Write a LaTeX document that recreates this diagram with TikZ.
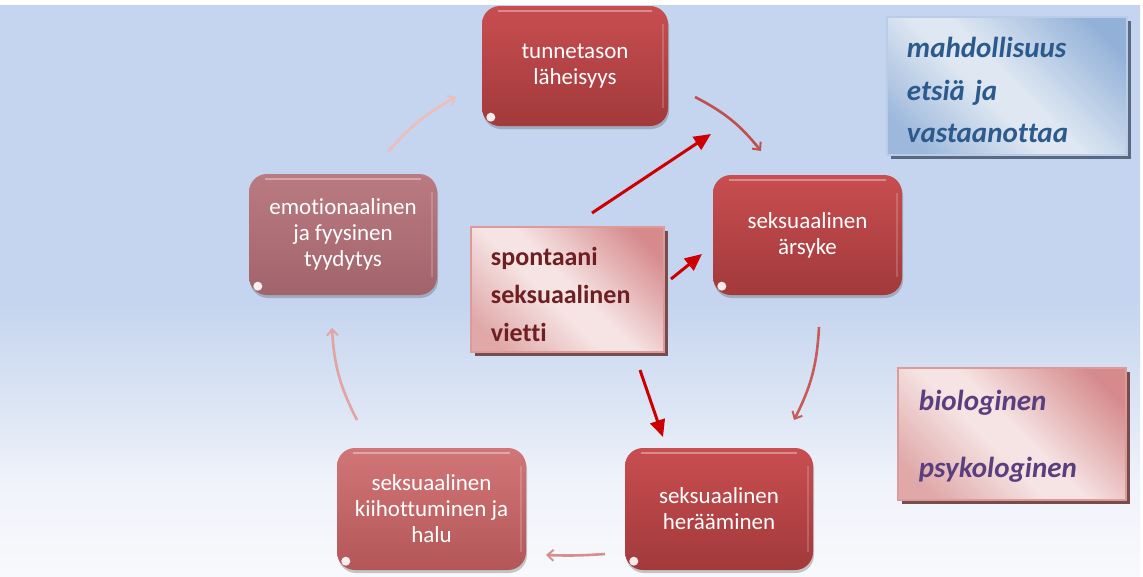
\documentclass[tikz,border=0pt]{standalone}
\usepackage{fontspec}
\setmainfont{Carlito}[Ligatures=NoCommon]
\usetikzlibrary{shadows,arrows.meta,calc}
\definecolor{bgA}{HTML}{C5D5EF}
\definecolor{bgB}{HTML}{DCE5F4}
\definecolor{bgC}{HTML}{F0F3FA}
\definecolor{bgD}{HTML}{F8F9FC}
\definecolor{darkT}{HTML}{C84E50}
\definecolor{darkB}{HTML}{A2393B}
\definecolor{midT}{HTML}{D17678}
\definecolor{midB}{HTML}{B45658}
\definecolor{mauT}{HTML}{BA7A82}
\definecolor{mauB}{HTML}{A2646C}
\definecolor{pinkL}{HTML}{F6E3E3}
\definecolor{pinkD}{HTML}{D68A8C}
\definecolor{pinkE}{HTML}{E0A8A8}
\definecolor{pinkBorder}{HTML}{DC9A9B}
\definecolor{blueL}{HTML}{DEE7F2}
\definecolor{blueD}{HTML}{92B1D8}
\definecolor{blueE}{HTML}{9DB8DB}
\definecolor{blueBorder}{HTML}{B9CDE8}
\definecolor{maroonT}{HTML}{6E1F21}
\definecolor{blueT}{HTML}{2D5A8D}
\definecolor{purpleT}{HTML}{5A3F7E}
\definecolor{redArrow}{HTML}{CC0000}
\definecolor{cA}{HTML}{C0504E}
\definecolor{cB}{HTML}{C65B59}
\definecolor{cC}{HTML}{D48F8E}
\definecolor{cD}{HTML}{E2A3A3}
\definecolor{cE}{HTML}{EDBDB8}
\pgfdeclareverticalshading{bgshade}{100bp}{color(0bp)=(bgD); color(25bp)=(bgD); color(33bp)=(bgC); color(40bp)=(bgB); color(49bp)=(bgA); color(75bp)=(bgA); color(100bp)=(bgA)}
\pgfdeclarehorizontalshading{pinkshade}{100bp}{color(0bp)=(pinkE); color(22bp)=(pinkE); color(44bp)=(pinkL); color(52bp)=(pinkL); color(78bp)=(pinkD); color(100bp)=(pinkD)}
\pgfdeclarehorizontalshading{blueshade}{100bp}{color(0bp)=(blueE); color(22bp)=(blueE); color(44bp)=(blueL); color(52bp)=(blueL); color(78bp)=(blueD); color(100bp)=(blueD)}
\begin{document}
\begin{tikzpicture}[x=1pt,y=-1pt,
  cyc/.style={rounded corners=18pt, minimum width=188pt, minimum height=121pt,
    text=white, align=center, inner sep=0pt,
    font=\fontsize{23}{26}\selectfont,
    drop shadow={shadow xshift=1pt, shadow yshift=-3pt, opacity=0.3, fill=black!70}},
  infobox/.style={minimum width=#1, line width=2.5pt},
  infotext/.style={anchor=west, text width=#1, align=left, inner sep=0pt},
  cycarrow/.style={line width=2.6pt, -{Straight Barb[length=6pt,width=11pt,line width=2pt]}},
  redarrow/.style={line width=3pt, draw=redArrow, -{Triangle[length=17pt,width=15pt]}}
]
\useasboundingbox (0,0) rectangle (1143,576);
\fill[white] (0,0) rectangle (1143,576);
\shade[shading=bgshade] (0,5) rectangle (1140,576);

% cycle nodes
\node[cyc, top color=darkT, bottom color=darkB, minimum width=186pt, minimum height=120pt] (tun) at (575,66) {tunnetason\\läheisyys};
\node[cyc, top color=darkT, bottom color=darkB, minimum width=189pt, minimum height=120pt] (ars) at (807.5,235) {seksuaalinen\\ärsyke};
\node[cyc, top color=darkT, bottom color=darkB, minimum width=188pt, minimum height=122pt] (her) at (719,509) {seksuaalinen\\herääminen};
\node[cyc, top color=midT, bottom color=midB, minimum width=189pt, minimum height=122pt] (kii) at (431.5,509) {seksuaalinen\\kiihottuminen ja\\halu};
\node[cyc, top color=mauT, bottom color=mauB, minimum width=188pt, minimum height=121pt] (tyy) at (343,234.5) {emotionaalinen\\ja fyysinen\\tyydytys};

% glossy highlights
\foreach \n in {tun,ars,her,kii,tyy}{
  \draw[white, opacity=0.35, line width=2pt] ($(\n.north west)+(16,5)$) -- ($(\n.north east)+(-16,5)$);
  \draw[white, opacity=0.18, line width=1.5pt] ($(\n.north east)+(-5,18)$) -- ($(\n.south east)+(-5,-18)$);
  \fill[white, opacity=0.9] ($(\n.south west)+(9,-9)$) circle (4.5pt);
}

% info boxes
\node[infobox=193pt, minimum height=125pt, draw=pinkBorder,
  shading=pinkshade, shading angle=45,
  drop shadow={shadow xshift=4pt, shadow yshift=-4pt, opacity=1, fill=black!45!pinkD}] (spo) at (567.5,289.5) {};
\node[infotext=160pt, text=maroonT, font=\bfseries\fontsize{26}{38}\selectfont] (spotxt) at ($(spo.west)+(21,5)$)
  {spontaani\\seksuaalinen\\vietti};

\node[infobox=240pt, minimum height=138pt, draw=blueBorder,
  shading=blueshade, shading angle=45,
  drop shadow={shadow xshift=4pt, shadow yshift=-4pt, opacity=1, fill=black!40!blueD}] (mah) at (1007,86) {};
\node[infotext=210pt, text=blueT, font=\bfseries\itshape\fontsize{29}{42.5}\selectfont] (mahtxt) at ($(mah.west)+(21,4)$)
  {mahdollisuus\\etsiä ja\\vastaanottaa};

\node[infobox=228pt, minimum height=132pt, draw=pinkBorder,
  shading=pinkshade, shading angle=45,
  drop shadow={shadow xshift=4pt, shadow yshift=-4pt, opacity=1, fill=black!45!pinkD}] (bio) at (1012,434) {};
\node[infotext=200pt, text=purpleT, font=\bfseries\itshape\fontsize{29}{33}\selectfont] (biotxt) at ($(bio.west)+(22,2)$)
  {biologinen\\[34pt]psykologinen};

% connector end points
\coordinate (c1a) at (695,97);  \coordinate (c1b) at (761,151);
\coordinate (c2a) at (819,327); \coordinate (c2b) at (794,420);
\coordinate (c3a) at (605,554); \coordinate (c3b) at (546,555);
\coordinate (c4a) at (357,420); \coordinate (c4b) at (332,328);
\coordinate (c5a) at (388,152); \coordinate (c5b) at (456,97);
\coordinate (r1a) at (592,213); \coordinate (r1b) at (711,134);
\coordinate (r2a) at (671,279); \coordinate (r2b) at (702,254);
\coordinate (r3a) at (640,370); \coordinate (r3b) at (663,437);

% cycle arrows
\draw[cycarrow, draw=cA] (c1a) to[bend left=12] (c1b);
\draw[cycarrow, draw=cB] (c2a) to[bend left=12] (c2b);
\draw[cycarrow, draw=cC] (c3a) to[bend left=3] (c3b);
\draw[cycarrow, draw=cD] (c4a) to[bend left=12] (c4b);
\draw[cycarrow, draw=cE] (c5a) to[bend left=10] (c5b);

% red arrows
\draw[redarrow] (r1a) -- (r1b);
\draw[redarrow] (r2a) -- (r2b);
\draw[redarrow] (r3a) -- (r3b);
\end{tikzpicture}
\end{document}
